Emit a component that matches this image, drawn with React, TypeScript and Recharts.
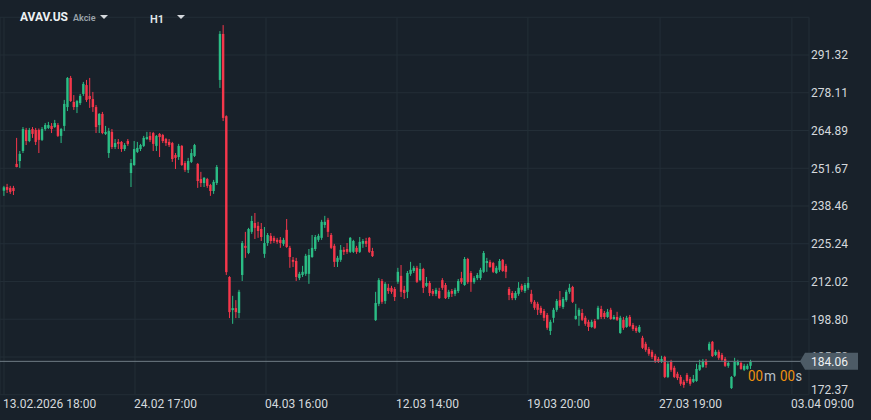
import { ComposedChart, Bar, XAxis, YAxis, CartesianGrid, ReferenceLine } from "recharts";

// AVAV.US hourly candles
const open = [
  243.8, 245.1, 244.8, 244.8, 253.2, 254.2, 257.7, 265.1, 261.2, 265.4,
  265.1, 265.1, 261.6, 265.4, 265.8, 266.5, 266.1, 266.8, 263.0, 266.5,
  273.1, 283.3, 274.9, 273.1, 274.5, 277.7, 280.8, 277.0, 275.9, 273.1,
  266.8, 270.7, 263.7, 257.0, 264.4, 259.1, 260.9, 260.9, 258.4, 261.2,
  250.0, 252.8, 257.4, 258.4, 259.5, 261.9, 263.0, 264.0, 259.5, 263.7,
  263.3, 261.9, 260.9, 260.5, 256.3, 255.6, 259.5, 253.5, 251.1, 253.9,
  256.0, 253.2, 247.9, 246.5, 247.9, 245.8, 243.7, 246.5, 282.6, 298.7,
  269.9, 213.6, 202.0, 202.7, 201.0, 214.3, 224.5, 222.0, 229.4, 232.5,
  231.5, 230.4, 221.7, 225.5, 228.0, 227.3, 226.6, 226.6, 225.2, 230.1,
  223.8, 219.6, 219.2, 213.2, 214.3, 214.7, 214.7, 220.6, 223.4, 226.6,
  227.3, 231.8, 233.6, 228.3, 224.5, 218.9, 219.6, 223.1, 223.4, 222.4,
  222.4, 223.8, 222.4, 225.2, 226.2, 227.3, 222.7, 198.5, 204.2, 212.2,
  205.2, 209.8, 209.8, 209.4, 211.9, 214.0, 209.1, 208.4, 214.7, 215.7,
  216.8, 212.5, 216.4, 210.5, 211.5, 208.7, 207.7, 208.7, 212.5, 210.8,
  206.6, 208.7, 207.7, 208.7, 213.2, 210.8, 219.9, 215.0, 211.8, 213.2,
  213.2, 215.4, 218.5, 218.9, 218.5, 215.0, 216.1, 219.6, 217.5, 209.4,
  208.0, 206.2, 207.7, 210.5, 208.7, 209.8, 207.7, 204.9, 204.2, 202.8,
  201.7, 200.3, 194.7, 199.3, 202.1, 205.5, 203.1, 205.5, 208.4, 210.1,
  198.9, 200.0, 201.0, 199.3, 197.9, 196.1, 198.2, 198.9, 202.4, 201.0,
  199.6, 202.1, 198.9, 199.6, 194.0, 198.6, 196.1, 199.6, 196.8, 195.8,
  194.4, 192.3, 190.2, 188.4, 187.4, 186.0, 184.9, 183.9, 185.6, 178.6,
  183.9, 181.8, 179.7, 178.6, 176.9, 179.3, 177.9, 176.9, 177.2, 181.1,
  182.1, 184.2, 188.1, 190.9, 186.3, 187.4, 186.3, 184.9, 182.5, 174.7,
  179.0, 182.8, 183.5, 181.1, 181.4, 182.5,
];
const high = [
  245.5, 246.2, 245.5, 245.5, 262.3, 257.7, 266.1, 265.8, 265.8, 266.1,
  265.8, 265.6, 266.1, 267.5, 267.9, 267.5, 268.6, 267.5, 265.8, 275.6,
  283.6, 284.0, 277.3, 275.6, 277.7, 281.9, 282.6, 283.3, 278.4, 273.8,
  271.0, 271.4, 266.5, 265.8, 265.4, 261.9, 261.9, 261.2, 260.5, 261.9,
  254.9, 261.2, 260.9, 260.2, 263.0, 264.4, 264.4, 264.4, 263.3, 264.0,
  263.7, 262.3, 261.9, 260.9, 257.0, 260.2, 259.8, 254.2, 255.3, 258.4,
  260.2, 253.5, 250.4, 248.6, 248.3, 246.2, 247.6, 252.8, 299.7, 301.8,
  270.2, 213.9, 207.0, 205.5, 209.1, 226.2, 229.4, 230.8, 235.0, 236.0,
  232.9, 232.5, 231.1, 229.0, 229.0, 228.0, 227.3, 227.6, 227.3, 233.9,
  224.5, 220.6, 220.3, 215.4, 217.5, 221.7, 223.4, 228.3, 228.3, 228.7,
  233.6, 235.0, 234.3, 229.0, 225.2, 221.0, 224.8, 224.1, 225.5, 227.6,
  226.6, 224.5, 227.6, 226.9, 227.3, 227.6, 223.8, 208.4, 213.2, 212.9,
  211.8, 211.2, 210.5, 210.1, 216.8, 217.8, 210.5, 215.7, 218.9, 217.5,
  217.5, 218.5, 216.8, 213.6, 212.2, 209.4, 209.8, 209.8, 213.2, 211.5,
  209.1, 209.4, 209.8, 212.9, 215.4, 220.6, 220.3, 215.7, 213.9, 215.0,
  216.8, 222.7, 220.3, 219.6, 218.9, 217.5, 219.9, 219.9, 218.2, 210.1,
  208.7, 208.7, 211.8, 211.2, 211.5, 213.6, 209.1, 205.5, 204.9, 203.5,
  202.4, 201.0, 198.6, 202.8, 205.9, 208.7, 206.6, 209.1, 211.2, 210.5,
  204.2, 202.8, 202.4, 200.0, 198.6, 198.6, 198.9, 203.5, 203.5, 201.7,
  202.4, 202.8, 200.3, 201.4, 200.0, 199.6, 200.0, 200.3, 197.5, 196.5,
  196.8, 193.0, 190.9, 189.1, 188.1, 186.7, 185.6, 186.0, 186.0, 183.9,
  184.6, 182.5, 180.4, 179.3, 177.6, 180.0, 178.6, 179.3, 183.2, 184.6,
  184.9, 184.9, 190.9, 191.2, 188.1, 188.1, 187.0, 185.6, 184.2, 178.9,
  185.3, 184.6, 184.2, 183.2, 183.2, 184.6,
];
const low = [
  242.0, 243.0, 242.7, 242.3, 252.0, 251.8, 257.0, 259.8, 260.8, 262.3,
  259.8, 257.0, 261.2, 264.8, 265.4, 264.0, 265.8, 262.6, 260.5, 264.7,
  271.7, 274.9, 272.1, 271.0, 273.8, 277.0, 274.9, 272.8, 271.4, 264.0,
  264.0, 263.6, 263.3, 255.3, 258.4, 258.4, 258.4, 257.4, 257.7, 259.5,
  245.1, 252.5, 257.0, 257.7, 259.1, 261.6, 260.9, 257.7, 257.7, 255.6,
  260.5, 259.5, 259.1, 253.9, 251.4, 254.6, 252.5, 250.4, 250.0, 253.5,
  255.6, 244.8, 245.1, 245.1, 244.8, 242.0, 242.7, 245.8, 279.8, 268.2,
  214.3, 199.2, 197.2, 199.2, 199.2, 212.2, 220.3, 221.6, 228.7, 226.9,
  227.3, 226.2, 220.3, 224.5, 225.2, 225.5, 225.2, 223.8, 224.5, 223.8,
  216.8, 217.1, 212.2, 212.5, 213.6, 214.0, 211.2, 220.3, 222.7, 225.9,
  226.6, 230.8, 227.6, 223.4, 217.1, 217.1, 218.9, 221.3, 221.7, 222.0,
  222.0, 221.7, 222.0, 223.8, 224.1, 222.0, 220.6, 198.2, 203.4, 204.2,
  204.2, 207.7, 207.7, 205.2, 211.2, 206.6, 205.9, 206.2, 214.0, 215.0,
  211.5, 212.2, 208.0, 210.1, 206.9, 206.9, 206.9, 205.9, 209.1, 205.9,
  205.9, 206.6, 206.9, 208.0, 211.2, 210.5, 211.2, 208.4, 211.2, 212.5,
  212.5, 215.0, 215.4, 216.8, 215.0, 214.7, 215.4, 215.4, 213.2, 205.5,
  205.5, 205.5, 207.0, 208.4, 208.0, 209.1, 204.2, 202.1, 200.3, 200.3,
  198.2, 195.1, 193.3, 197.6, 201.4, 202.8, 202.4, 204.9, 207.7, 204.5,
  198.6, 196.5, 198.2, 196.5, 194.7, 195.8, 195.4, 198.6, 198.9, 198.9,
  199.3, 198.6, 198.6, 198.2, 193.7, 195.1, 195.8, 196.1, 194.7, 194.0,
  194.0, 188.4, 187.4, 186.0, 184.9, 183.5, 183.5, 183.5, 178.2, 178.2,
  180.4, 178.2, 177.5, 175.5, 174.8, 176.5, 175.5, 176.5, 176.9, 180.7,
  181.8, 181.8, 187.7, 185.6, 185.9, 184.6, 184.2, 182.1, 181.8, 174.4,
  178.6, 182.5, 181.1, 180.7, 181.1, 181.4,
];
const close = [
  245.0, 244.1, 243.4, 243.7, 252.1, 256.7, 265.4, 261.2, 265.1, 263.7,
  260.9, 261.6, 265.4, 266.8, 266.8, 265.4, 267.5, 263.0, 265.4, 274.2,
  283.3, 275.2, 273.1, 275.2, 277.0, 281.2, 275.6, 275.9, 273.1, 266.1,
  270.7, 264.0, 264.4, 264.7, 259.1, 260.5, 260.2, 258.4, 259.8, 260.2,
  253.5, 258.4, 258.8, 259.8, 262.3, 262.6, 261.6, 260.2, 263.0, 262.6,
  261.2, 260.5, 259.8, 254.9, 255.3, 259.5, 252.8, 251.1, 254.2, 257.0,
  259.8, 247.2, 246.5, 248.3, 245.5, 243.7, 246.9, 252.1, 298.7, 269.3,
  215.3, 201.3, 202.7, 201.3, 208.4, 225.5, 223.8, 230.4, 233.2, 230.8,
  229.7, 227.6, 225.5, 228.3, 226.2, 226.2, 225.9, 225.5, 226.6, 224.1,
  220.6, 218.9, 213.6, 214.7, 215.4, 221.0, 221.3, 223.8, 227.6, 228.0,
  232.9, 232.9, 229.4, 223.8, 218.9, 220.3, 223.1, 222.4, 222.4, 227.3,
  226.2, 222.4, 225.9, 226.2, 225.2, 222.4, 220.9, 204.5, 212.5, 204.9,
  211.2, 208.7, 208.4, 206.6, 215.4, 208.4, 208.0, 215.0, 216.1, 216.8,
  211.9, 216.4, 209.8, 211.5, 208.0, 207.7, 209.1, 206.2, 209.8, 206.2,
  208.4, 207.7, 209.1, 212.2, 211.8, 219.9, 211.8, 211.8, 213.2, 214.3,
  216.1, 222.0, 219.2, 217.1, 215.4, 216.8, 219.2, 215.7, 215.4, 207.3,
  206.2, 208.0, 209.8, 209.1, 210.8, 211.5, 204.9, 202.8, 202.1, 201.0,
  199.3, 195.8, 197.9, 202.1, 205.2, 203.5, 205.9, 208.4, 209.8, 204.9,
  200.0, 202.1, 198.6, 197.2, 196.1, 197.9, 195.8, 202.8, 199.6, 199.6,
  201.4, 198.9, 199.6, 198.6, 199.3, 195.8, 199.3, 196.5, 195.4, 194.7,
  196.1, 188.8, 188.1, 186.7, 185.6, 184.2, 183.9, 184.9, 178.6, 183.2,
  181.1, 178.6, 178.2, 176.2, 175.8, 177.2, 176.2, 177.9, 181.4, 182.8,
  184.2, 182.8, 190.2, 185.9, 187.4, 185.3, 184.6, 182.5, 183.5, 178.6,
  183.9, 183.9, 181.4, 182.5, 182.5, 184.06,
];

// time axis: candle index where each label sits
const timeTicks = [0, 41.23, 82.47, 123.7, 164.9, 206.5, 248];
const timeLabels = ["13.02.2026 18:00", "24.02 17:00", "04.03 16:00", "12.03 14:00", "19.03 20:00", "27.03 19:00", "03.04 09:00"];
const priceTicks = [172.37, 185.58, 198.8, 212.02, 225.24, 238.46, 251.67, 264.89, 278.11, 291.32];
const lastPrice = 184.06;

const data = open.map((o, i) => ({ i, o, h: high[i], l: low[i], c: close[i], range: [low[i], high[i]] }));

const BG = "#18212a";
const GRID = "#232e37";
const TEXT = "#d5d9dd";
const UP = "#2bbd85";
const DOWN = "#f5374b";
const FONT = "Roboto, 'Noto Sans', sans-serif";
// plot height / price span, used only to tuck the hidden tick under the price box
const PX_PER_UNIT = 377.46 / 132.17;

function Candle(props: any) {
  const { x, y, width, height, payload } = props;
  const { o, h, l, c } = payload;
  const top = height < 0 ? y + height : y;
  const span = Math.abs(height);
  const k = h === l ? 0 : span / (h - l);
  const yO = top + (h - o) * k;
  const yC = top + (h - c) * k;
  const color = c >= o ? UP : DOWN;
  const cx = x + width / 2;
  const bodyTop = Math.min(yO, yC);
  const bodyH = Math.max(1, Math.abs(yO - yC));
  return (
    <g>
      <line x1={cx} x2={cx} y1={top} y2={top + span} stroke={color} strokeWidth={1} />
      <rect x={cx - 1.2} y={bodyTop} width={2.4} height={bodyH} fill={color} />
    </g>
  );
}

function TimeTick(props: any) {
  const { x, y, index } = props;
  return (
    <text x={x - 1} y={y + 13.5} fill={TEXT} fontSize={12} fontFamily={FONT} textAnchor="start">
      {timeLabels[index]}
    </text>
  );
}

function PriceTick(props: any) {
  const { x, y, payload } = props;
  const v = payload.value;
  const shift = v === priceTicks[0] ? -5.5 : 0;
  const label = (
    <text x={x} y={y + 4.3 + shift} fill={TEXT} fontSize={12} fontFamily={FONT} textAnchor="start">
      {v.toFixed(2)}
    </text>
  );
  const gap = (v - lastPrice) * PX_PER_UNIT;
  if (Math.abs(gap) < 14) {
    // the price box sits on top of this one: keep only the part above the box
    const boxTop = y + gap - 8.5;
    const id = `cut-${Math.round(v * 100)}`;
    return (
      <g>
        <defs>
          <clipPath id={id}>
            <rect x={x - 5} y={boxTop - 20} width={70} height={20} />
          </clipPath>
        </defs>
        <g clipPath={`url(#${id})`}>{label}</g>
      </g>
    );
  }
  return label;
}

function PriceLabel(props: any) {
  const { viewBox } = props;
  const y = viewBox.y;
  return (
    <g>
      <path d={`M800,${y} L805,${y - 8.5} L858,${y - 8.5} L858,${y + 8.5} L805,${y + 8.5} Z`} fill="#4d5b66" />
      <text x={811} y={y + 4.3} fill="#eef1f3" fontSize={12} fontFamily={FONT}>
        {lastPrice.toFixed(2)}
      </text>
      <text x={748} y={y + 19.5} fill="#f0920f" fontSize={15} fontFamily={FONT} textLength={15} lengthAdjust="spacingAndGlyphs">00</text>
      <text x={764} y={y + 19.5} fill="#b9c0c6" fontSize={15} fontFamily={FONT} textLength={12} lengthAdjust="spacingAndGlyphs">m</text>
      <text x={780} y={y + 19.5} fill="#f0920f" fontSize={15} fontFamily={FONT} textLength={15} lengthAdjust="spacingAndGlyphs">00</text>
      <text x={795.5} y={y + 19.5} fill="#b9c0c6" fontSize={15} fontFamily={FONT} textLength={6.5} lengthAdjust="spacingAndGlyphs">s</text>
    </g>
  );
}

function Caret({ left, top }: { left: number; top: number }) {
  return (
    <div
      style={{
        position: "absolute",
        left,
        top,
        width: 0,
        height: 0,
        borderLeft: "4px solid transparent",
        borderRight: "4px solid transparent",
        borderTop: `4px solid ${TEXT}`,
      }}
    />
  );
}

export default function App() {
  return (
    <div style={{ position: "fixed", left: 0, top: 0, width: 871, height: 420, background: BG, fontFamily: FONT }}>
      <ComposedChart
        width={871}
        height={420}
        data={data}
        margin={{ top: 17.27, right: 0, bottom: 5.27, left: 0 }}
      >
        <CartesianGrid stroke={GRID} strokeWidth={1} />
        <XAxis
          dataKey="i"
          type="number"
          domain={[-1.259, 253.38]}
          allowDataOverflow
          ticks={timeTicks}
          tick={<TimeTick />}
          tickLine={false}
          axisLine={false}
          tickSize={0}
          tickMargin={0}
          height={20}
          interval={0}
        />
        <YAxis
          orientation="right"
          type="number"
          domain={[172.37, 304.54]}
          allowDataOverflow
          ticks={priceTicks}
          tick={<PriceTick />}
          tickLine={false}
          axisLine={false}
          tickSize={0}
          tickMargin={2}
          width={62}
          interval={0}
        />
        <Bar dataKey="range" barSize={3} shape={<Candle />} isAnimationActive={false} />
        <ReferenceLine y={lastPrice} stroke="#6f7b85" strokeWidth={1} label={<PriceLabel />} />
      </ComposedChart>
      <div style={{ position: "absolute", left: 20, top: 10, color: "#eef1f3", fontSize: 12, fontWeight: 700 }}>AVAV.US</div>
      <div style={{ position: "absolute", left: 73, top: 13, color: "#9aa3ab", fontSize: 9, fontWeight: 600 }}>Akcie</div>
      <Caret left={100} top={15} />
      <div style={{ position: "absolute", left: 150, top: 13, color: "#e3e6e9", fontSize: 11, fontWeight: 600 }}>H1</div>
      <Caret left={177} top={15} />
    </div>
  );
}
